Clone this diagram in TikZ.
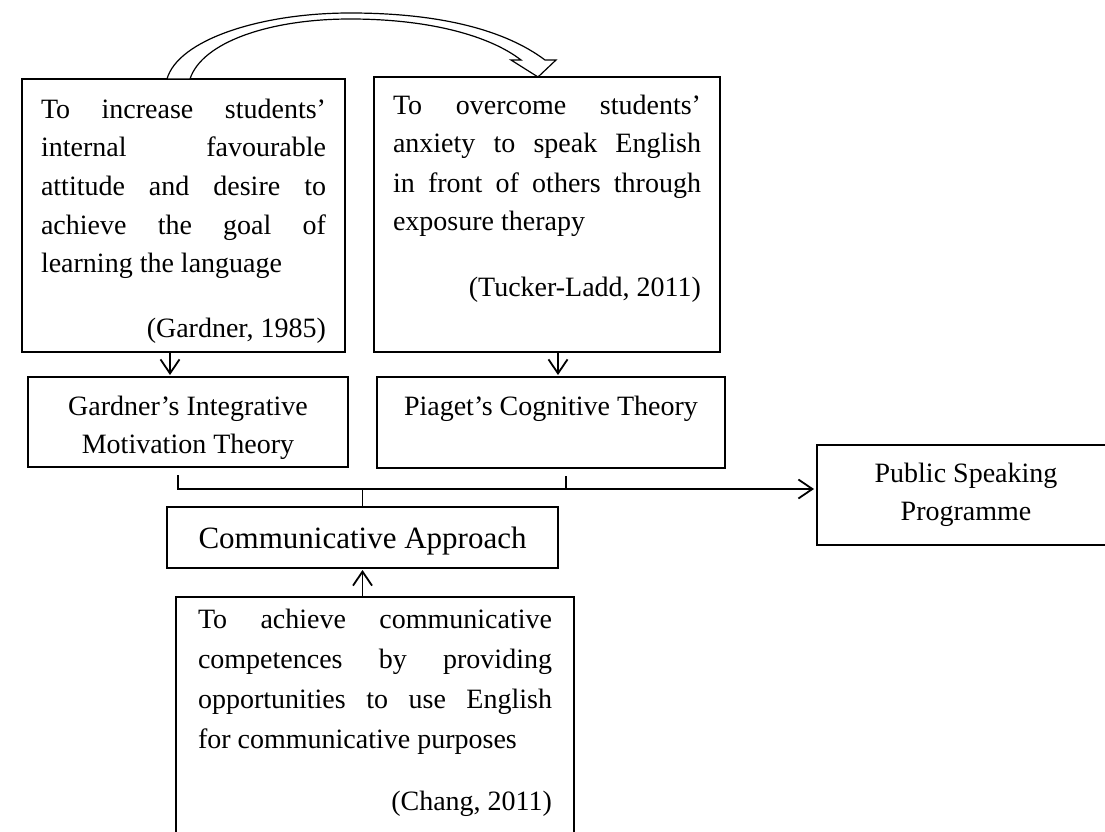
\documentclass[tikz,border=0pt]{standalone}
\usepackage{fontspec}
\setmainfont{Liberation Serif}
\usetikzlibrary{arrows.meta}
\begin{document}
\begin{tikzpicture}[x=1pt,y=-1pt,
  box/.style={draw, line width=1.8pt, inner sep=0pt, outer sep=0pt, anchor=north west},
  conn/.style={line width=1.8pt},
  arr/.style={line width=1.8pt, -{Straight Barb[length=14pt,width=19pt,line width=1.8pt]}},
  txt/.style={inner sep=0pt, outer sep=0pt, font=\fontsize{28}{38}\selectfont},
  big/.style={inner sep=0pt, outer sep=0pt, font=\fontsize{31}{40}\selectfont},
  blockarrow/.style={draw, line width=1.2pt, fill=white}]
\useasboundingbox (0,0) rectangle (1105,832);
\fill[white] (0,0) rectangle (1105,832);
\begin{scope}
\clip (0,0) rectangle (1105,832);

% boxes
\node[box, minimum width=323pt, minimum height=273pt] (A) at (22,79) {};
\node[box, minimum width=346pt, minimum height=275pt] (B) at (374,77) {};
\node[box, minimum width=320pt, minimum height=90pt] (G) at (28,377) {};
\node[box, minimum width=348pt, minimum height=91pt] (P) at (377,377) {};
\node[box, minimum width=391pt, minimum height=61pt] (C) at (167,507) {};
\node[box, minimum width=398pt, minimum height=245pt] (D) at (176,597) {};
\node[box, minimum width=298pt, minimum height=100pt] (E) at (817,445) {};

% text of A
\node[txt, anchor=base west] (a1) at (41,118) {\makebox[285pt][s]{To increase students’}};
\node[txt, anchor=base west] (a2) at (41,157) {\makebox[285pt][s]{internal favourable}};
\node[txt, anchor=base west] (a3) at (41,195) {\makebox[285pt][s]{attitude and desire to}};
\node[txt, anchor=base west] (a4) at (41,234) {\makebox[285pt][s]{achieve the goal of}};
\node[txt, anchor=base west] (a5) at (41,272) {learning the language};
\node[txt, anchor=base east] (a6) at (326,337) {(Gardner, 1985)};

% text of B
\node[txt, anchor=base west] (b1) at (393,115) {\makebox[308pt][s]{To overcome students’}};
\node[txt, anchor=base west] (b2) at (393,153) {\makebox[308pt][s]{anxiety to speak English}};
\node[txt, anchor=base west] (b3) at (393,192) {\makebox[308pt][s]{in front of others through}};
\node[txt, anchor=base west] (b4) at (393,230) {exposure therapy};
\node[txt, anchor=base east] (b5) at (701,296) {(Tucker-Ladd, 2011)};

% text of G, P, C, E
\node[txt, anchor=base] (g1) at (188,415) {Gardner’s Integrative};
\node[txt, anchor=base] (g2) at (188,453) {Motivation Theory};
\node[txt, anchor=base] (p1) at (551,415) {Piaget’s Cognitive Theory};
\node[big, anchor=base] (c1) at (362.5,548) {Communicative Approach};
\node[txt, anchor=base] (e1) at (966,482) {Public Speaking};
\node[txt, anchor=base] (e2) at (966,520) {Programme};

% text of D
\node[txt, anchor=base west] (d1) at (198,628) {\makebox[354pt][s]{To achieve communicative}};
\node[txt, anchor=base west] (d2) at (198,668) {\makebox[354pt][s]{competences by providing}};
\node[txt, anchor=base west] (d3) at (198,708) {\makebox[354pt][s]{opportunities to use English}};
\node[txt, anchor=base west] (d4) at (198,748) {for communicative purposes};
\node[txt, anchor=base east] (d5) at (552,810) {(Chang, 2011)};

% curved block arrow from A to B
\draw[blockarrow] (167,79) .. controls (178,40) and (260,13) .. (350,13)
  .. controls (440,13) and (505,30) .. (545,60) -- (556,60) -- (538,77) -- (511,60) -- (521,60)
  .. controls (490,36) and (430,19) .. (350,19)
  .. controls (270,19) and (202,42) .. (190,79) -- cycle;

% vertical arrows
\draw[arr] ([xshift=148pt]A.south west) -- ([xshift=142pt,yshift=2pt]G.north west);
\draw[arr] ([xshift=184pt]B.south west) -- ([xshift=181pt,yshift=2pt]P.north west);
\draw[arr] (D.north -| C.south) -- ([yshift=-2pt]C.south);

% junction
\coordinate (j) at (362.5,489);
\draw[conn] ([xshift=150pt,yshift=-8pt]G.south west) |- (j);
\draw[conn] ([xshift=189pt,yshift=-8pt]P.south west) -- ++(0,14);
\draw[conn] (j) -- (C.north);
\draw[arr] (j) -- ([xshift=-3pt]E.west |- j);
\end{scope}
\end{tikzpicture}
\end{document}
